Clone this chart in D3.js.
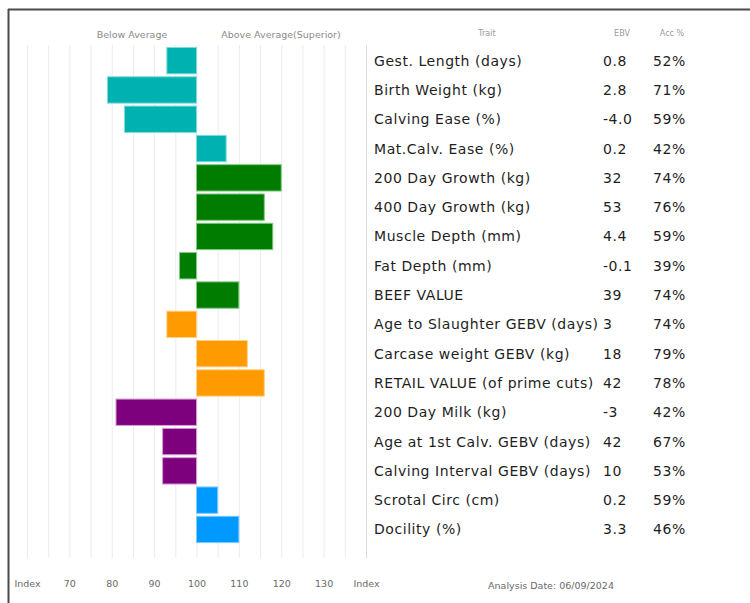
<!DOCTYPE html>
<html>
<head>
<meta charset="utf-8">
<script src="https://cdn.jsdelivr.net/npm/d3@7"></script>
<style>
  html, body { margin: 0; padding: 0; background: #fff; }
  svg { display: block; }
</style>
</head>
<body>
<svg id="chart" width="750" height="603"></svg>
<script>
// ---------- DATA ----------
const traits = [
  "Gest. Length (days)", "Birth Weight (kg)", "Calving Ease (%)", "Mat.Calv. Ease (%)",
  "200 Day Growth (kg)", "400 Day Growth (kg)", "Muscle Depth (mm)", "Fat Depth (mm)",
  "BEEF VALUE", "Age to Slaughter GEBV (days)", "Carcase weight GEBV (kg)",
  "RETAIL VALUE (of prime cuts)", "200 Day Milk (kg)", "Age at 1st Calv. GEBV (days)",
  "Calving Interval GEBV (days)", "Scrotal Circ (cm)", "Docility (%)"
];
const ebv = ["0.8", "2.8", "-4.0", "0.2", "32", "53", "4.4", "-0.1", "39", "3", "18", "42", "-3", "42", "10", "0.2", "3.3"];
const acc = ["52%", "71%", "59%", "42%", "74%", "76%", "59%", "39%", "74%", "74%", "79%", "78%", "42%", "67%", "53%", "59%", "46%"];
const indexValues = [93, 79, 83, 107, 120, 116, 118, 96, 110, 93, 112, 116, 81, 92, 92, 105, 110];
const groups = ["calving", "calving", "calving", "calving", "growth", "growth", "growth", "growth", "growth",
                "carcase", "carcase", "carcase", "maternal", "maternal", "maternal", "other", "other"];
const groupNames = ["calving", "growth", "carcase", "maternal", "other"];
const groupFill = ["#00b1b1", "#007d00", "#ff9a00", "#7d007d", "#0099ff"];
const groupStroke = ["#7fdcdc", "#7fcc7f", "#ffd08a", "#d49ad4", "#80ccff"];
const tickValues = [60, 70, 80, 90, 100, 110, 120, 130, 140];
const tickLabels = ["Index", "70", "80", "90", "100", "110", "120", "130", "Index"];
const gridValues = d3.range(60, 141, 5);
const baseIndex = 100;

// ---------- SCALES ----------
const svg = d3.select("#chart");
const x = d3.scaleLinear().domain([60, 140]).range([27, 366]);
const y = d3.scaleBand().domain(traits).range([46, 46 + 17 * 29.3]).paddingInner(0.1).paddingOuter(0.05);
const fill = d3.scaleOrdinal().domain(groupNames).range(groupFill);
const stroke = d3.scaleOrdinal().domain(groupNames).range(groupStroke);

// frame
svg.append("line").attr("x1", 8).attr("x2", 750).attr("y1", 9.5).attr("y2", 9.5)
  .attr("stroke", "#4a4a4a").attr("stroke-width", 2);
svg.append("line").attr("x1", 8.5).attr("x2", 8.5).attr("y1", 9).attr("y2", 603)
  .attr("stroke", "#4a4a4a").attr("stroke-width", 2);

// gridlines
svg.append("g").selectAll("line").data(gridValues).join("line")
  .attr("x1", d => x(d) + 0.5).attr("x2", d => x(d) + 0.5)
  .attr("y1", 45).attr("y2", 558)
  .attr("stroke", d => d === 140 ? "#dcdcdc" : "#ececec").attr("stroke-width", 1);

// bars
svg.append("g").selectAll("rect").data(traits).join("rect")
  .attr("x", (d, i) => x(Math.min(indexValues[i], baseIndex)))
  .attr("width", (d, i) => Math.abs(x(indexValues[i]) - x(baseIndex)))
  .attr("y", d => y(d))
  .attr("height", y.bandwidth())
  .attr("fill", (d, i) => fill(groups[i]))
  .attr("stroke", (d, i) => stroke(groups[i]))
  .attr("stroke-width", 1);

// header labels
const smallFont = "'DejaVu Sans', Verdana, sans-serif";
svg.append("text").attr("x", 132).attr("y", 38).attr("text-anchor", "middle")
  .attr("font-family", smallFont).attr("font-size", 9.5).attr("fill", "#8a8a8a").text("Below Average");
svg.append("text").attr("x", 281).attr("y", 38).attr("text-anchor", "middle")
  .attr("font-family", smallFont).attr("font-size", 9.5).attr("fill", "#8a8a8a").text("Above Average(Superior)");

const headFont = "'DejaVu Sans', sans-serif";
svg.append("text").attr("x", 487).attr("y", 36).attr("text-anchor", "middle")
  .attr("font-family", headFont).attr("font-size", 8).attr("fill", "#9a9a9a").text("Trait");
svg.append("text").attr("x", 622).attr("y", 36).attr("text-anchor", "middle")
  .attr("font-family", headFont).attr("font-size", 8).attr("fill", "#9a9a9a").text("EBV");
svg.append("text").attr("x", 672).attr("y", 36).attr("text-anchor", "middle")
  .attr("font-family", headFont).attr("font-size", 8).attr("fill", "#9a9a9a").text("Acc %");

// table text
const bodyFont = "'DejaVu Sans', sans-serif";
const rows = svg.append("g").attr("font-family", bodyFont).attr("font-size", 14)
  .attr("letter-spacing", 0.55).attr("fill", "#1e1e1e");
rows.selectAll("text.trait").data(traits).join("text").attr("class", "trait")
  .attr("x", 374).attr("y", d => y(d) + y.bandwidth() / 2 + 5).text(d => d);
rows.selectAll("text.ebv").data(traits).join("text").attr("class", "ebv")
  .attr("x", 603).attr("y", d => y(d) + y.bandwidth() / 2 + 5).text((d, i) => ebv[i]);
rows.selectAll("text.acc").data(traits).join("text").attr("class", "acc")
  .attr("x", 653).attr("y", d => y(d) + y.bandwidth() / 2 + 5).text((d, i) => acc[i]);

// bottom axis
const axis = d3.axisBottom(x).tickValues(tickValues).tickSize(0)
  .tickFormat((d, i) => tickLabels[i]);
const ax = svg.append("g").attr("transform", "translate(0,577)").call(axis);
ax.select(".domain").remove();
ax.selectAll("text").attr("font-family", smallFont).attr("font-size", 9.5).attr("fill", "#6a6a6a");

svg.append("text").attr("x", 551).attr("y", 589).attr("text-anchor", "middle")
  .attr("font-family", smallFont).attr("font-size", 9.5).attr("fill", "#6a6a6a").text("Analysis Date: 06/09/2024");
</script>
</body>
</html>
